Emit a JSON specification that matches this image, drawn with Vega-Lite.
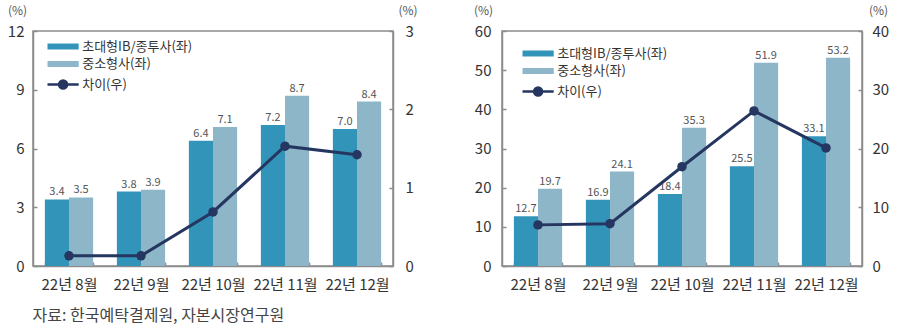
{
  "$schema": "https://vega.github.io/schema/vega-lite/v6.json",
  "padding": {"top": 3, "left": 6, "right": 0, "bottom": 0},
  "datasets": {
    "bars_a": [
      {"month": "22년 8월", "series": "초대형IB/종투사(좌)", "value": 3.4},
      {"month": "22년 8월", "series": "중소형사(좌)", "value": 3.5},
      {"month": "22년 9월", "series": "초대형IB/종투사(좌)", "value": 3.8},
      {"month": "22년 9월", "series": "중소형사(좌)", "value": 3.9},
      {"month": "22년 10월", "series": "초대형IB/종투사(좌)", "value": 6.4},
      {"month": "22년 10월", "series": "중소형사(좌)", "value": 7.1},
      {"month": "22년 11월", "series": "초대형IB/종투사(좌)", "value": 7.2},
      {"month": "22년 11월", "series": "중소형사(좌)", "value": 8.7},
      {"month": "22년 12월", "series": "초대형IB/종투사(좌)", "value": 7.0},
      {"month": "22년 12월", "series": "중소형사(좌)", "value": 8.4}
    ],
    "diff_a": [
      {"month": "22년 8월", "series": "차이(우)", "value": 0.13},
      {"month": "22년 9월", "series": "차이(우)", "value": 0.13},
      {"month": "22년 10월", "series": "차이(우)", "value": 0.69},
      {"month": "22년 11월", "series": "차이(우)", "value": 1.53},
      {"month": "22년 12월", "series": "차이(우)", "value": 1.42}
    ],
    "bars_b": [
      {"month": "22년 8월", "series": "초대형IB/종투사(좌)", "value": 12.7},
      {"month": "22년 8월", "series": "중소형사(좌)", "value": 19.7},
      {"month": "22년 9월", "series": "초대형IB/종투사(좌)", "value": 16.9},
      {"month": "22년 9월", "series": "중소형사(좌)", "value": 24.1},
      {"month": "22년 10월", "series": "초대형IB/종투사(좌)", "value": 18.4},
      {"month": "22년 10월", "series": "중소형사(좌)", "value": 35.3},
      {"month": "22년 11월", "series": "초대형IB/종투사(좌)", "value": 25.5},
      {"month": "22년 11월", "series": "중소형사(좌)", "value": 51.9},
      {"month": "22년 12월", "series": "초대형IB/종투사(좌)", "value": 33.1},
      {"month": "22년 12월", "series": "중소형사(좌)", "value": 53.2}
    ],
    "diff_b": [
      {"month": "22년 8월", "series": "차이(우)", "value": 7.0},
      {"month": "22년 9월", "series": "차이(우)", "value": 7.2},
      {"month": "22년 10월", "series": "차이(우)", "value": 16.9},
      {"month": "22년 11월", "series": "차이(우)", "value": 26.4},
      {"month": "22년 12월", "series": "차이(우)", "value": 20.1}
    ]
  },
  "config": {
    "font": "Noto Sans CJK KR",
    "view": {"stroke": "#8c8c8c", "strokeWidth": 1.5},
    "axis": {
      "grid": false,
      "domainColor": "#8c8c8c",
      "domainWidth": 1.5,
      "tickColor": "#8c8c8c",
      "tickWidth": 1.5,
      "labelColor": "#333333",
      "labelFontSize": 15,
      "labelOverlap": false,
      "labelFont": "Noto Sans CJK KR",
      "titleFont": "Noto Sans CJK KR",
      "titleFontWeight": "normal",
      "titleFontSize": 12,
      "titleColor": "#555555"
    },
    "legend": {
      "labelFont": "Noto Sans CJK KR"
    }
  },
  "title": {
    "text": "자료: 한국예탁결제원, 자본시장연구원",
    "orient": "bottom",
    "anchor": "start",
    "fontSize": 16,
    "fontWeight": "normal",
    "color": "#444444",
    "offset": 15,
    "dx": 26
  },
  "spacing": 54,
  "resolve": {"scale": {"color": "independent"}, "legend": {"color": "independent"}},
  "hconcat": [
    {
      "width": 360,
      "height": 235,
      "layer": [
        {
          "data": {"name": "bars_a"},
          "layer": [
            {
              "mark": {"type": "bar"},
              "encoding": {
                "x": {"field": "month", "type": "nominal", "sort": ["22년 8월", "22년 9월", "22년 10월", "22년 11월", "22년 12월"],
                  "scale": {"paddingInner": 0.33, "paddingOuter": 0.165},
                  "axis": {"title": null, "labelAngle": 0, "tickBand": "extent", "tickSize": -4, "labelPadding": 15, "labelFontSize": 15}},
                "xOffset": {"field": "series", "sort": ["초대형IB/종투사(좌)", "중소형사(좌)"], "scale": {"paddingInner": 0, "paddingOuter": 0}},
                "y": {"field": "value", "type": "quantitative", "scale": {"domain": [0, 12], "nice": false},
                  "axis": {"orient": "left", "values": [0, 3, 6, 9, 12], "labelOverlap": false, "format": "d", "tickSize": -4, "labelPadding": 13, "title": "(%)", "titleAngle": 0, "titleX": -16, "titleY": -21, "titleAlign": "center", "titleBaseline": "middle"}},
                "color": {"field": "series", "type": "nominal",
                  "scale": {"domain": ["초대형IB/종투사(좌)", "중소형사(좌)", "차이(우)"], "range": ["#3394BA", "#8DB7C8", "#253661"]},
                  "legend": {
                    "orient": "none", "legendX": 23.6, "legendY": 9, "title": null, "padding": 0,
                    "symbolSize": 256, "symbolStrokeWidth": 0, "labelOffset": 12.6, "labelFontSize": 13, "labelColor": "#333333", "rowPadding": 3.5,
                    "encode": {"symbols": {"update": {
                      "shape": {"signal": "datum.value === '차이(우)' ? 'M-1.95,0H1.95M0.5,0A0.5,0.5 0 1,1 -0.5,0A0.5,0.5 0 1,1 0.5,0Z' : 'M-1.95,-0.375H1.95V0.375H-1.95Z'"},
                      "fill": {"signal": "datum.value === '차이(우)' ? '#253661' : datum.value === '중소형사(좌)' ? '#8DB7C8' : '#3394BA'"},
                      "stroke": {"signal": "datum.value === '차이(우)' ? '#253661' : 'transparent'"},
                      "strokeWidth": {"signal": "datum.value === '차이(우)' ? 2.5 : 0"},
                      "opacity": {"value": 1}
                    }}}
                  }}
              }
            },
            {
              "mark": {"type": "text", "fontSize": 11, "fill": "#555555", "baseline": "bottom", "dy": -2},
              "encoding": {
                "x": {"field": "month", "type": "nominal", "sort": ["22년 8월", "22년 9월", "22년 10월", "22년 11월", "22년 12월"]},
                "xOffset": {"field": "series", "sort": ["초대형IB/종투사(좌)", "중소형사(좌)"]},
                "y": {"field": "value", "type": "quantitative"},
                "text": {"field": "value", "type": "quantitative", "format": ".1f"}
              }
            }
          ]
        },
        {
          "data": {"name": "diff_a"},
          "layer": [
            {
              "mark": {"type": "line", "strokeWidth": 3},
              "encoding": {
                "x": {"field": "month", "type": "nominal", "sort": ["22년 8월", "22년 9월", "22년 10월", "22년 11월", "22년 12월"]},
                "y": {"field": "value", "type": "quantitative", "scale": {"domain": [0, 3], "nice": false},
                  "axis": {"orient": "right", "values": [0, 1, 2, 3], "labelOverlap": false, "format": "d", "tickSize": -4, "labelPadding": 16, "title": "(%)", "titleAngle": 0, "titleX": 14.5, "titleY": -21, "titleAlign": "center", "titleBaseline": "middle"}},
                "color": {"field": "series", "type": "nominal"}
              }
            },
            {
              "mark": {"type": "point", "filled": true, "size": 90, "opacity": 1},
              "encoding": {
                "x": {"field": "month", "type": "nominal", "sort": ["22년 8월", "22년 9월", "22년 10월", "22년 11월", "22년 12월"]},
                "y": {"field": "value", "type": "quantitative"},
                "color": {"field": "series", "type": "nominal"}
              }
            }
          ]
        }
      ],
      "resolve": {"scale": {"y": "independent"}}
    },
    {
      "width": 360,
      "height": 235,
      "layer": [
        {
          "data": {"name": "bars_b"},
          "layer": [
            {
              "mark": {"type": "bar"},
              "encoding": {
                "x": {"field": "month", "type": "nominal", "sort": ["22년 8월", "22년 9월", "22년 10월", "22년 11월", "22년 12월"],
                  "scale": {"paddingInner": 0.33, "paddingOuter": 0.165},
                  "axis": {"title": null, "labelAngle": 0, "tickBand": "extent", "tickSize": -4, "labelPadding": 15, "labelFontSize": 15}},
                "xOffset": {"field": "series", "sort": ["초대형IB/종투사(좌)", "중소형사(좌)"], "scale": {"paddingInner": 0, "paddingOuter": 0}},
                "y": {"field": "value", "type": "quantitative", "scale": {"domain": [0, 60], "nice": false},
                  "axis": {"orient": "left", "values": [0, 10, 20, 30, 40, 50, 60], "tickCount": 7, "labelOverlap": false, "format": "d", "tickSize": -4, "labelPadding": 15, "title": "(%)", "titleAngle": 0, "titleX": -19, "titleY": -21, "titleAlign": "center", "titleBaseline": "middle"}},
                "color": {"field": "series", "type": "nominal",
                  "scale": {"domain": ["초대형IB/종투사(좌)", "중소형사(좌)", "차이(우)"], "range": ["#3394BA", "#8DB7C8", "#253661"]},
                  "legend": {
                    "orient": "none", "legendX": 29.6, "legendY": 16, "title": null, "padding": 0,
                    "symbolSize": 256, "symbolStrokeWidth": 0, "labelOffset": 12.6, "labelFontSize": 13, "labelColor": "#333333", "rowPadding": 3.5,
                    "encode": {"symbols": {"update": {
                      "shape": {"signal": "datum.value === '차이(우)' ? 'M-1.95,0H1.95M0.5,0A0.5,0.5 0 1,1 -0.5,0A0.5,0.5 0 1,1 0.5,0Z' : 'M-1.95,-0.375H1.95V0.375H-1.95Z'"},
                      "fill": {"signal": "datum.value === '차이(우)' ? '#253661' : datum.value === '중소형사(좌)' ? '#8DB7C8' : '#3394BA'"},
                      "stroke": {"signal": "datum.value === '차이(우)' ? '#253661' : 'transparent'"},
                      "strokeWidth": {"signal": "datum.value === '차이(우)' ? 2.5 : 0"},
                      "opacity": {"value": 1}
                    }}}
                  }}
              }
            },
            {
              "mark": {"type": "text", "fontSize": 11, "fill": "#555555", "baseline": "bottom", "dy": -2},
              "encoding": {
                "x": {"field": "month", "type": "nominal", "sort": ["22년 8월", "22년 9월", "22년 10월", "22년 11월", "22년 12월"]},
                "xOffset": {"field": "series", "sort": ["초대형IB/종투사(좌)", "중소형사(좌)"]},
                "y": {"field": "value", "type": "quantitative", "axis": {"orient": "left", "values": [0, 10, 20, 30, 40, 50, 60], "labelOverlap": false}},
                "text": {"field": "value", "type": "quantitative", "format": ".1f"}
              }
            }
          ]
        },
        {
          "data": {"name": "diff_b"},
          "layer": [
            {
              "mark": {"type": "line", "strokeWidth": 3},
              "encoding": {
                "x": {"field": "month", "type": "nominal", "sort": ["22년 8월", "22년 9월", "22년 10월", "22년 11월", "22년 12월"]},
                "y": {"field": "value", "type": "quantitative", "scale": {"domain": [0, 40], "nice": false},
                  "axis": {"orient": "right", "values": [0, 10, 20, 30, 40], "labelOverlap": false, "format": "d", "tickSize": -4, "labelPadding": 14, "title": "(%)", "titleAngle": 0, "titleX": 16, "titleY": -21, "titleAlign": "center", "titleBaseline": "middle"}},
                "color": {"field": "series", "type": "nominal"}
              }
            },
            {
              "mark": {"type": "point", "filled": true, "size": 90, "opacity": 1},
              "encoding": {
                "x": {"field": "month", "type": "nominal", "sort": ["22년 8월", "22년 9월", "22년 10월", "22년 11월", "22년 12월"]},
                "y": {"field": "value", "type": "quantitative"},
                "color": {"field": "series", "type": "nominal"}
              }
            }
          ]
        }
      ],
      "resolve": {"scale": {"y": "independent"}}
    }
  ]
}
